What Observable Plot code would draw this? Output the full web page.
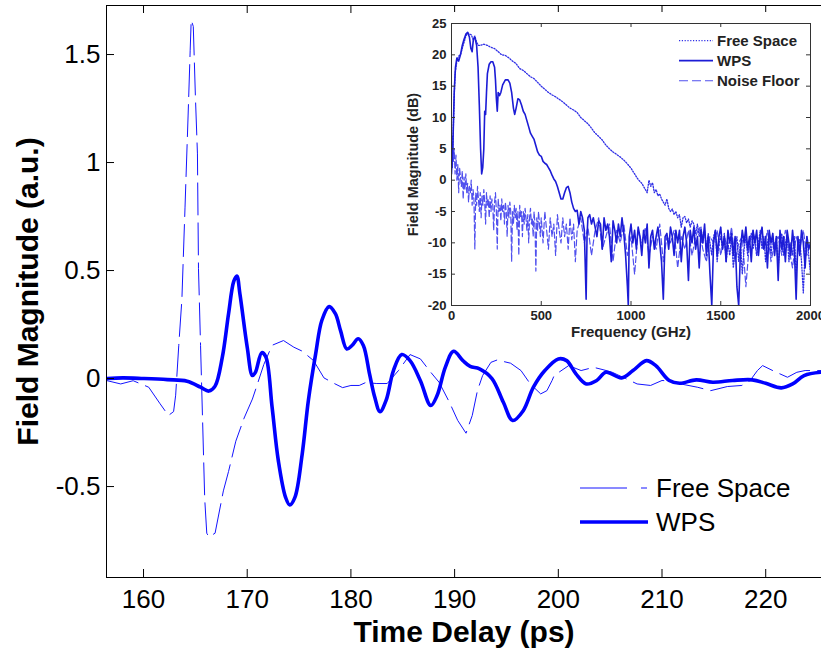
<!DOCTYPE html>
<html>
<head>
<meta charset="utf-8">
<script src="https://cdn.jsdelivr.net/npm/d3@7"></script>
<script src="https://cdn.jsdelivr.net/npm/@observablehq/plot@0.6"></script>
<style>
  html, body { margin: 0; padding: 0; background: #fff; }
  #wrap { position: relative; width: 821px; height: 649px; overflow: hidden; font-family: "Liberation Sans", Arial, sans-serif; }
  #inset { position: absolute; left: 402px; top: 12px; background: #fff; }
  .leg { position: absolute; }
</style>
</head>
<body>
<div id="wrap"></div>
<script>
// ---------------- Main chart data (time domain) ----------------
const wpsT = [156.5,158,160,162.3,164.2,165.5,166.3,166.9,167.6,168.2,168.7,169.0,169.3,170.0,170.5,170.8,171.4,171.8,172.4,173.0,173.7,174.1,174.6,175.3,175.9,176.6,177.2,177.9,178.5,179.0,179.6,180.1,180.7,181.2,181.8,182.3,182.8,183.4,184.1,184.9,185.7,186.7,187.7,188.3,189.1,189.9,190.8,191.5,192.4,193.6,194.7,195.6,196.6,197.6,198.7,200.0,200.8,201.7,202.7,203.7,204.6,206.1,207.2,208.5,209.4,210.7,211.7,213.3,214.9,216.8,218.7,220.0,221.5,222.6,223.7,225.3];
const wpsV = [0.0,0.003,0.0,-0.005,-0.012,-0.04,-0.058,-0.035,0.099,0.30,0.45,0.475,0.39,0.145,0.014,0.03,0.12,0.10,-0.133,-0.38,-0.55,-0.585,-0.55,-0.35,-0.10,0.114,0.27,0.333,0.30,0.222,0.137,0.153,0.184,0.153,0.02,-0.087,-0.153,-0.10,0.037,0.111,0.083,-0.01,-0.125,-0.08,0.052,0.126,0.083,0.056,0.045,0.0,-0.11,-0.194,-0.15,-0.04,0.037,0.091,0.083,0.022,-0.025,-0.009,0.029,0.003,0.037,0.083,0.06,-0.009,-0.022,-0.006,-0.017,-0.009,-0.006,-0.022,-0.043,-0.025,0.014,0.029];

const freeT = [156.5,157.8,159.0,160.5,161.6,162.4,162.9,163.1,163.4,163.7,164.0,164.3,164.5,164.6,164.8,165.0,165.2,165.3,165.5,165.7,165.9,166.1,166.3,166.9,167.7,168.2,168.9,169.7,170.5,171.0,171.6,172.4,173.5,174.5,175.3,176.4,177.4,178.4,179.2,180.0,180.8,181.4,182.5,183.5,184.6,185.7,186.7,187.7,188.5,189.5,190.3,191.1,191.7,192.2,192.7,193.5,194.1,195.4,196.4,197.3,198.3,198.9,199.4,199.6,201.0,202.2,203.4,204.4,205.2,206.5,207.6,208.9,210.0,211.0,211.8,213.4,214.7,216.3,217.7,218.5,219.2,219.7,220.8,222.1,223.0,223.8,225.3];
const freeV = [-0.01,-0.025,-0.01,-0.04,-0.117,-0.171,-0.153,-0.077,0.154,0.366,0.79,1.22,1.52,1.66,1.63,1.31,1.04,0.51,0.153,-0.2,-0.556,-0.716,-0.733,-0.716,-0.52,-0.43,-0.29,-0.183,-0.095,-0.023,0.065,0.154,0.176,0.145,0.127,0.083,0.003,-0.023,-0.042,-0.032,-0.032,-0.019,-0.023,-0.023,0.038,0.111,0.091,0.029,-0.017,-0.11,-0.194,-0.253,-0.171,-0.056,0.014,0.075,0.086,0.071,0.037,-0.025,-0.071,-0.056,-0.009,0.014,0.06,0.037,0.052,0.04,0.029,0.0,-0.025,-0.032,-0.009,-0.012,-0.025,-0.04,-0.056,-0.037,-0.032,-0.009,0.037,0.06,0.034,0.006,0.029,0.037,0.037];

const xTicks = [160,170,180,190,200,210,220];
const yTicks = [-0.5,0,0.5,1,1.5];
const xDomain = [156.43, 225.38];
const yDomain = [-0.921, 1.727];

// ---------------- Inset data (frequency domain) ----------------
const iWpsF = [0,8,15,22,30,40,50,60,70,80,90,100,108,115,122,130,140,148,155,162,168,174,180,185,190,195,200,210,220,230,240,245,250,255,260,268,275,285,300,315,325,335,345,352,360,370,380,390,400,410,420,430,440,450,460,470,480,490,500,510,520,530,540,550,560,570,580,590,600,610,620,630,640,650,660,670,680,690,700,710,720,730,740,750,755,760,770,780,790,800,810,820,830,840,850,860,870,880,890,900,910,920,930,940,950,960,970,980,985,990,1000,1010,1020,1030,1040,1050,1060,1070,1080,1090,1100,1110,1120,1130,1140,1150,1160,1170,1180,1190,1200,1210,1220,1230,1240,1250,1260,1270,1280,1290,1300,1310,1320,1330,1340,1350,1360,1370,1380,1390,1400,1410,1420,1430,1440,1450,1460,1470,1480,1490,1500,1510,1520,1530,1540,1550,1560,1570,1580,1590,1600,1610,1620,1630,1640,1650,1660,1670,1680,1690,1700,1710,1720,1730,1740,1750,1760,1770,1780,1790,1800,1810,1820,1830,1840,1850,1860,1870,1880,1890,1900,1910,1920,1930,1940,1950,1960,1970,1980,1990,2000];
const iWpsDb = [1,6,14,18,19.5,19,20,21.5,22.5,23.3,23.6,22.8,21,20.5,22.5,22.8,21.5,18,12,5,1,2,5,11,10.5,14,17,18.5,18.9,18.9,18,16,13,11,14,13.5,14,15.2,16,16,15.5,14,11.5,10.5,11.5,13,12.8,12,11,10.5,9.5,8.5,7.5,7,6.5,5.5,4.5,4,3.8,3,2.7,2.5,2,1.5,0.8,0.2,-0.2,-1,-2,-3,-3,-2,-1.2,-1,-2,-3.5,-4.5,-5,-4.8,-7,-5,-6,-8,-19,-9,-6,-5.5,-7,-6,-7.5,-9,-6.5,-7,-11,-6,-8,-7,-9,-13,-6.5,-8,-10,-7,-9,-6,-8.5,-12,-17,-20,-9,-7,-10,-8,-11,-7.5,-9,-12,-8,-10,-7,-14,-9,-8,-11,-9,-7.5,-10,-13,-19,-9,-8.5,-11,-7.5,-9,-12,-8,-10,-8,-13,-9,-7.5,-10,-16,-8,-10,-7.5,-11,-9,-14,-8,-10,-7,-12,-9,-15,-20,-10,-8,-12,-9,-7.5,-11,-9,-13,-8,-10,-8.5,-12,-9,-17,-20,-11,-8,-10,-7.5,-11,-9,-13,-8,-10,-8,-12,-9,-7.5,-11,-9,-14,-8,-10,-8.5,-12,-9,-16,-8,-11,-9,-13,-8,-10,-12,-8,-11,-19,-9,-12,-8,-10,-14,-9,-11,-10];

const iFreeF = [0,5,10,15,20,30,40,50,60,70,80,90,100,110,120,130,140,150,160,180,200,220,240,260,280,300,320,340,360,380,400,420,440,460,480,500,520,540,560,580,600,620,640,660,680,700,720,740,760,780,800,820,840,860,880,900,920,940,960,980,1000,1020,1040,1060,1080,1090,1100,1110,1120,1130,1140,1150,1160,1170,1180,1190,1200,1210,1220,1230,1240,1250,1260,1270,1280,1290,1300,1310,1320,1330,1340,1350,1360,1370,1380,1390,1400,1410,1420,1430,1440,1450,1460,1470,1480,1490,1500,1510,1520,1530,1540,1550,1560,1570,1580,1590,1600,1610,1620,1630,1640,1650,1660,1670,1680,1690,1700,1710,1720,1730,1740,1750,1760,1770,1780,1790,1800,1810,1820,1830,1840,1850,1860,1870,1880,1890,1900,1910,1920,1930,1940,1950,1960,1970,1980,1990,2000];
const iFreeDb = [6,2,8,13,17,19,19.8,20,21,22,23,23.5,23.3,23.2,22.5,23,22,21.5,21.5,21.7,21.5,21.2,21,20.5,20,19.9,19.5,19,18.6,17.8,17.5,17,16.5,16.2,15.6,15,14.5,14,13.6,13.3,12.9,12.5,12,11.5,11.2,10.8,10,9.5,9,8.3,7.5,7,6.4,5.6,5,4.5,4.1,3.7,3.2,2.6,1.9,1.0,0.1,-0.5,-1.5,-2,0,-1,-0.4,-2,-1.5,-2.5,-2.2,-3,-3.5,-4,-3,-4.5,-5,-4.6,-5.5,-5,-6,-5.5,-7.5,-6,-5.8,-6.8,-6.2,-7.5,-6.5,-7,-8.5,-7,-9,-7.5,-10,-8,-11,-8.5,-10,-12,-9,-8,-13,-10,-9,-11,-8.5,-13,-10,-12,-9,-14,-11,-9,-13,-10,-15,-11,-9,-12,-10,-8.5,-11,-9,-12,-10,-8,-11,-9,-13,-10,-8.5,-12,-9,-11,-9,-14,-10,-8.5,-12,-10,-9,-13,-10,-12,-9,-15,-11,-9.5,-13,-18,-11,-9,-12,-15];

const iNoiseF = [0,5,10,15,20,25,30,35,40,45,50,55,60,65,70,75,80,85,90,95,100,105,110,115,120,125,130,135,140,145,150,155,160,165,170,175,180,185,190,195,200,205,210,215,220,225,230,235,240,245,250,255,260,265,270,275,280,285,290,295,300,305,310,315,320,325,330,335,340,345,350,355,360,365,370,375,380,385,390,395,400,405,410,415,420,425,430,435,440,445,450,455,460,465,470,475,480,485,490,495,500,510,520,530,540,550,560,570,580,590,600,610,620,630,640,650,660,670,680,690,700,720,740,760,780,800,820,840,860,880,900,920,940,960,980,1000,1020,1040,1060,1080,1100,1120,1140,1160,1180,1200,1220,1240,1260,1280,1300,1320,1340,1360,1380,1400,1420,1440,1460,1480,1500,1520,1540,1560,1580,1600,1620,1640,1660,1680,1700,1720,1740,1760,1780,1800,1820,1840,1860,1880,1900,1920,1940,1960,1980,2000];
const iNoiseDb = [5,7,3,5,1,4,0,2.5,-2,2,0.5,-1,1.5,-3,0.5,-1.5,1,-2,-0.5,-3.5,-1,-2,0,-4,-1.5,-3,-11,-2,-4,-1,-3,-5,-2,-6,-2.5,-4,-1.5,-3.5,-7,-2,-4,-3,-6,-2.5,-5,-3,-4,-8,-3.5,-2,-5,-11,-3,-5,-4,-6.5,-3,-5,-4,-7,-3.5,-5,-9,-4,-6,-3.5,-5,-13,-5,-7,-4,-6,-4.5,-8,-5,-12,-4,-6,-5,-9,-5,-7,-4.5,-6,-8,-5.5,-10,-6,-4.5,-7,-6,-9,-5,-7,-14.5,-6,-8,-5,-7,-9,-6,-10,-5,-8,-11,-6,-9,-7,-12,-5.5,-8,-10,-6,-9,-7,-11,-6,-9.5,-7,-13,-8,-6,-10,-7.5,-12,-8,-6,-11,-9,-7,-13,-8,-10,-7,-12,-9,-15,-8,-10,-7.5,-12,-9,-11,-7,-13,-9,-10,-8,-14,-9,-11,-8,-12,-9,-7.5,-11,-13,-9,-10,-8,-12,-9,-11,-7.5,-13,-10,-9,-17,-10,-8,-12,-9,-11,-8,-13,-10,-9,-12,-8,-11,-14,-9,-11,-8,-12,-10];

const iXTicks = [0,500,1000,1500,2000];
const iYTicks = [-20,-15,-10,-5,0,5,10,15,20,25];

// ---------------- Build tables ----------------
const wpsData = wpsT.map((t, i) => ({t, v: wpsV[i]}));
const freeData = freeT.map((t, i) => ({t, v: freeV[i]}));
const iWps = iWpsF.map((f, i) => ({f, db: iWpsDb[i]}));
const iFree = iFreeF.map((f, i) => ({f, db: iFreeDb[i]}));
const iNoise = iNoiseF.map((f, i) => ({f, db: iNoiseDb[i]}));

const FONT = '"Liberation Sans", Arial, sans-serif';
const W = 821, H = 649;
const mL = 106, mR = 0, mT = 5, mB = 72;
const innerW = W - mL - mR, innerH = H - mT - mB;
const tickLen = 8;

const main = Plot.plot({
  width: W, height: H,
  marginLeft: mL, marginRight: mR, marginTop: mT, marginBottom: mB,
  style: {fontFamily: FONT, fontSize: "26px", color: "#000", background: "transparent", overflow: "visible"},
  x: {domain: xDomain},
  y: {domain: yDomain},
  marks: [
    Plot.line(freeData, {x: "t", y: "v", stroke: "#1414ff", strokeWidth: 1, strokeDasharray: "32,8", clip: true}),
    Plot.line(wpsData, {x: "t", y: "v", stroke: "#0000ff", strokeWidth: 3.6, curve: "catmull-rom", clip: true}),
    Plot.frame({stroke: "#000", strokeWidth: 1}),
    Plot.tickX(xTicks, {x: d => d, insetTop: innerH - tickLen, stroke: "#000"}),
    Plot.tickX(xTicks, {x: d => d, insetBottom: innerH - tickLen, stroke: "#000"}),
    Plot.tickY(yTicks, {y: d => d, insetRight: innerW - tickLen, stroke: "#000"}),
    Plot.axisX({ticks: xTicks, tickSize: 0, tickPadding: 12, fontSize: 26, label: null, tickFormat: d => String(d)}),
    Plot.axisY({ticks: yTicks, tickSize: 0, tickPadding: 6, fontSize: 26, label: null, tickFormat: d => String(d)}),
    Plot.text(["Time Delay (ps)"], {frameAnchor: "bottom", dy: 55, fontSize: 30, fontWeight: "bold", lineAnchor: "middle", textAnchor: "middle"}),
    Plot.text(["Field Magnitude (a.u.)"], {frameAnchor: "left", dx: -78, rotate: -90, fontSize: 30, fontWeight: "bold", lineAnchor: "middle", textAnchor: "middle"})
  ]
});
document.getElementById("wrap").appendChild(main);

// ---------------- Inset ----------------
const IW = 419, IH = 330;
const imL = 49, imR = 11, imT = 11, imB = 37;
const iInnerW = IW - imL - imR, iInnerH = IH - imT - imB;
const iTick = 4;
const cWps = "#1c1cd6", cFree = "#2f2fe6", cNoise = "#5050ee";

const inset = Plot.plot({
  width: IW, height: IH,
  marginLeft: imL, marginRight: imR, marginTop: imT, marginBottom: imB,
  style: {fontFamily: FONT, fontSize: "13px", color: "#222", background: "#fff", overflow: "visible"},
  x: {domain: [0, 2000]},
  y: {domain: [-20, 25]},
  marks: [
    Plot.line(iNoise, {x: "f", y: "db", stroke: cNoise, strokeWidth: 1.2, strokeDasharray: "6,3", clip: true}),
    Plot.line(iFree, {x: "f", y: "db", stroke: cFree, strokeWidth: 1.3, strokeDasharray: "1.2,1.6", clip: true}),
    Plot.line(iWps, {x: "f", y: "db", stroke: cWps, strokeWidth: 1.6, clip: true}),
    Plot.frame({stroke: "#333", strokeWidth: 1}),
    Plot.tickX(iXTicks, {x: d => d, insetTop: iInnerH - iTick, stroke: "#333"}),
    Plot.tickX(iXTicks, {x: d => d, insetBottom: iInnerH - iTick, stroke: "#333"}),
    Plot.tickY(iYTicks, {y: d => d, insetRight: iInnerW - iTick, stroke: "#333"}),
    Plot.tickY(iYTicks, {y: d => d, insetLeft: iInnerW - iTick, stroke: "#333"}),
    Plot.axisX({ticks: iXTicks, tickSize: 0, tickPadding: 5, fontSize: 13, fontWeight: "bold", label: null, tickFormat: d => String(d)}),
    Plot.axisY({ticks: iYTicks, tickSize: 0, tickPadding: 5, fontSize: 13, fontWeight: "bold", label: null, tickFormat: d => String(d)}),
    Plot.text(["Frequency (GHz)"], {frameAnchor: "bottom", dy: 27, fontSize: 15, fontWeight: "bold", lineAnchor: "middle", textAnchor: "middle"}),
    Plot.text(["Field Magnitude (dB)"], {frameAnchor: "left", dx: -38, rotate: -90, fontSize: 14.5, fontWeight: "bold", lineAnchor: "middle", textAnchor: "middle"})
  ]
});
const insetDiv = document.createElement("div");
insetDiv.id = "inset";
insetDiv.appendChild(inset);
document.getElementById("wrap").appendChild(insetDiv);

// ---------------- Legends ----------------
const svgNS = "http://www.w3.org/2000/svg";
function legend(left, top, w, h, rows) {
  const s = document.createElementNS(svgNS, "svg");
  s.setAttribute("width", w); s.setAttribute("height", h);
  s.setAttribute("class", "leg");
  s.style.left = left + "px"; s.style.top = top + "px";
  s.style.fontFamily = FONT;
  rows.forEach(r => {
    const l = document.createElementNS(svgNS, "line");
    l.setAttribute("x1", r.x1); l.setAttribute("x2", r.x2);
    l.setAttribute("y1", r.y); l.setAttribute("y2", r.y);
    l.setAttribute("stroke", r.stroke); l.setAttribute("stroke-width", r.sw);
    if (r.dash) l.setAttribute("stroke-dasharray", r.dash);
    s.appendChild(l);
    const t = document.createElementNS(svgNS, "text");
    t.setAttribute("x", r.tx); t.setAttribute("y", r.y);
    t.setAttribute("dy", "0.35em");
    t.setAttribute("font-size", r.fs); t.setAttribute("font-weight", r.fw);
    t.setAttribute("fill", r.fill);
    t.textContent = r.label;
    s.appendChild(t);
  });
  document.getElementById("wrap").appendChild(s);
}
legend(570, 470, 240, 70, [
  {x1: 10, x2: 77, y: 18, stroke: "#1414ff", sw: 1, dash: "47,14,6", tx: 86, fs: 26, fw: "normal", fill: "#000", label: "Free Space"},
  {x1: 10, x2: 78, y: 52, stroke: "#0000ff", sw: 3.6, dash: null, tx: 86, fs: 26, fw: "normal", fill: "#000", label: "WPS"}
]);
legend(670, 28, 145, 66, [
  {x1: 9, x2: 43, y: 12.7, stroke: cFree, sw: 1.3, dash: "1.2,1.6", tx: 47, fs: 15, fw: "bold", fill: "#222", label: "Free Space"},
  {x1: 9, x2: 43, y: 32.7, stroke: cWps, sw: 1.8, dash: null, tx: 47, fs: 15, fw: "bold", fill: "#222", label: "WPS"},
  {x1: 9, x2: 43, y: 52.7, stroke: cNoise, sw: 1.1, dash: "9,4", tx: 47, fs: 15, fw: "bold", fill: "#222", label: "Noise Floor"}
]);
</script>
</body>
</html>
